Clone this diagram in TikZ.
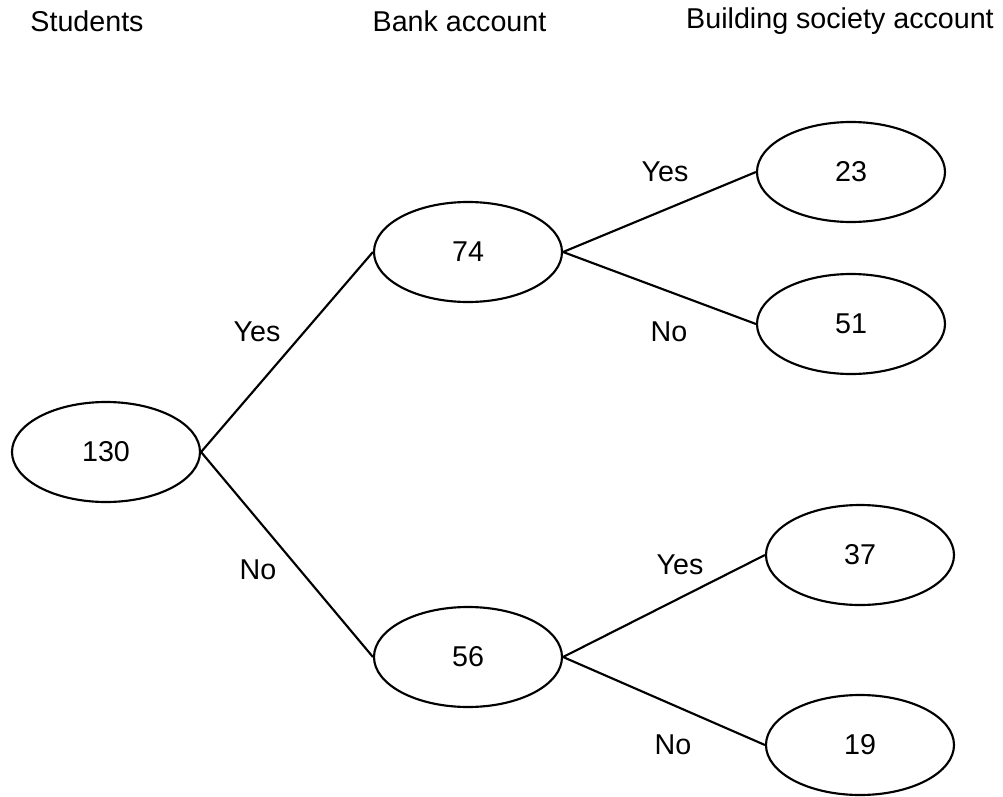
\documentclass[tikz,border=0pt]{standalone}
\usepackage{fontspec}
\setmainfont{Liberation Sans}
\usetikzlibrary{shapes.geometric}
\begin{document}
\begin{tikzpicture}[x=0.75pt,y=-0.75pt,
  every node/.style={font=\fontsize{21.5}{26}\selectfont},
  count/.style={draw, ellipse, line width=1.6pt, minimum width=141pt, minimum height=75pt, inner sep=0pt},
  branch/.style={line width=1.6pt},
  lbl/.style={inner sep=0pt}]
\useasboundingbox (0,0) rectangle (1003,796);
\node[lbl] (hs) at (87,21) {Students};
\node[lbl] (hb) at (459.5,21) {Bank account};
\node[lbl] (hc) at (840,21) {Building society account};
\node[count] (n130) at (106,452) {130};
\node[count] (n74) at (468,252) {74};
\node[count] (n56) at (468,657) {56};
\node[count] (n23) at (851,172) {23};
\node[count] (n51) at (851,324) {51};
\node[count] (n37) at (860,555) {37};
\node[count] (n19) at (860,745) {19};
\draw[branch] (n130.east) -- (n74.west);
\draw[branch] (n130.east) -- (n56.west);
\draw[branch] (n74.east) -- (n23.west);
\draw[branch] (n74.east) -- (n51.west);
\draw[branch] (n56.east) -- (n37.west);
\draw[branch] (n56.east) -- (n19.west);
\node[lbl] (y1) at (257,332) {Yes};
\node[lbl] (no1) at (258,570) {No};
\node[lbl] (y2) at (665,172) {Yes};
\node[lbl] (no2) at (669,332) {No};
\node[lbl] (y3) at (680,565) {Yes};
\node[lbl] (no3) at (673,745) {No};
\end{tikzpicture}
\end{document}
